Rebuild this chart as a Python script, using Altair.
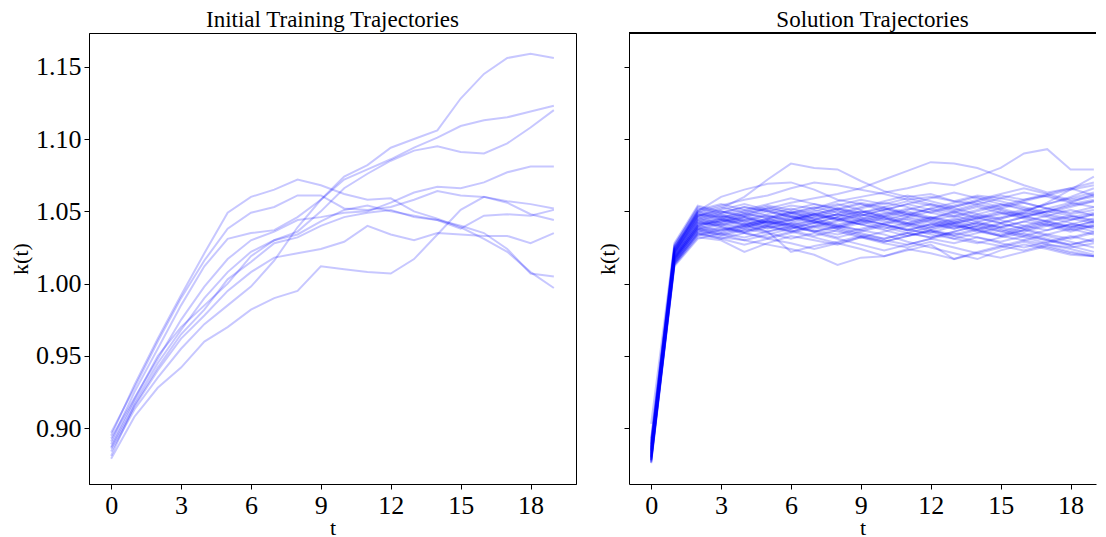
import altair as alt
import pandas as pd

FONT = "Liberation Serif"

t_values = list(range(20))
x_ticks = [0, 3, 6, 9, 12, 15, 18]
y_ticks = [0.90, 0.95, 1.00, 1.05, 1.10, 1.15]

# ---- Initial training trajectories (left panel) ----
init_a = [0.884, 0.913, 0.935, 0.955, 0.972, 0.985, 0.998, 1.016, 1.039, 1.058, 1.074, 1.082, 1.094, 1.100, 1.106, 1.128, 1.145, 1.156, 1.159, 1.156]
init_b = [0.891, 0.925, 0.955, 0.985, 1.012, 1.031, 1.035, 1.037, 1.046, 1.058, 1.072, 1.079, 1.086, 1.094, 1.101, 1.109, 1.113, 1.115, 1.119, 1.123]
init_c = [0.887, 0.918, 0.945, 0.968, 0.990, 1.008, 1.022, 1.030, 1.036, 1.050, 1.066, 1.076, 1.085, 1.092, 1.095, 1.091, 1.090, 1.097, 1.108, 1.120]
init_d = [0.893, 0.921, 0.948, 0.975, 0.998, 1.017, 1.030, 1.036, 1.044, 1.046, 1.049, 1.050, 1.056, 1.063, 1.067, 1.066, 1.070, 1.077, 1.081, 1.081]
init_e = [0.895, 0.930, 0.962, 0.992, 1.021, 1.049, 1.060, 1.065, 1.072, 1.068, 1.062, 1.058, 1.059, 1.050, 1.045, 1.039, 1.031, 1.022, 1.008, 0.997]
init_f = [0.897, 0.928, 0.960, 0.990, 1.016, 1.038, 1.049, 1.053, 1.061, 1.061, 1.052, 1.051, 1.053, 1.058, 1.064, 1.061, 1.060, 1.057, 1.055, 1.052]
init_g = [0.879, 0.908, 0.928, 0.942, 0.960, 0.970, 0.982, 0.990, 0.995, 1.012, 1.010, 1.008, 1.007, 1.017, 1.034, 1.051, 1.060, 1.056, 1.048, 1.044]
init_h = [0.886, 0.915, 0.940, 0.962, 0.978, 0.995, 1.008, 1.018, 1.021, 1.024, 1.029, 1.040, 1.034, 1.030, 1.035, 1.034, 1.033, 1.033, 1.028, 1.035]
init_i = [0.889, 0.920, 0.950, 0.970, 0.985, 1.000, 1.019, 1.030, 1.034, 1.043, 1.051, 1.054, 1.050, 1.047, 1.044, 1.040, 1.035, 1.024, 1.007, 1.005]
init_j = [0.881, 0.916, 0.942, 0.965, 0.982, 1.003, 1.015, 1.028, 1.032, 1.040, 1.046, 1.049, 1.051, 1.046, 1.044, 1.038, 1.047, 1.048, 1.047, 1.051]
initial_runs = [init_a, init_b, init_c, init_d, init_e, init_f, init_g, init_h, init_i, init_j]

# ---- Solution trajectories (right panel) ----
sol_01 = [0.878, 1.018, 1.042, 1.045, 1.048, 1.046, 1.050, 1.047, 1.044, 1.049, 1.052, 1.048, 1.045, 1.050, 1.054, 1.051, 1.047, 1.050, 1.055, 1.058]
sol_02 = [0.881, 1.021, 1.045, 1.041, 1.038, 1.043, 1.040, 1.036, 1.039, 1.044, 1.041, 1.037, 1.035, 1.040, 1.038, 1.034, 1.039, 1.043, 1.040, 1.036]
sol_03 = [0.884, 1.024, 1.050, 1.054, 1.058, 1.061, 1.066, 1.070, 1.068, 1.065, 1.062, 1.058, 1.060, 1.057, 1.061, 1.059, 1.063, 1.060, 1.056, 1.062]
sol_04 = [0.877, 1.015, 1.036, 1.039, 1.035, 1.032, 1.036, 1.040, 1.038, 1.034, 1.031, 1.035, 1.039, 1.042, 1.037, 1.033, 1.030, 1.034, 1.038, 1.041]
sol_05 = [0.886, 1.022, 1.047, 1.052, 1.060, 1.072, 1.083, 1.080, 1.079, 1.071, 1.064, 1.060, 1.062, 1.057, 1.055, 1.059, 1.056, 1.052, 1.049, 1.053]
sol_06 = [0.880, 1.023, 1.050, 1.060, 1.065, 1.069, 1.070, 1.065, 1.058, 1.055, 1.050, 1.047, 1.052, 1.049, 1.045, 1.048, 1.051, 1.047, 1.044, 1.048]
sol_07 = [0.879, 1.013, 1.032, 1.030, 1.022, 1.028, 1.033, 1.030, 1.027, 1.032, 1.029, 1.033, 1.036, 1.031, 1.028, 1.032, 1.035, 1.031, 1.027, 1.030]
sol_08 = [0.883, 1.017, 1.040, 1.037, 1.041, 1.036, 1.022, 1.026, 1.029, 1.033, 1.030, 1.027, 1.031, 1.035, 1.032, 1.028, 1.025, 1.029, 1.033, 1.029]
sol_09 = [0.876, 1.014, 1.035, 1.032, 1.030, 1.027, 1.024, 1.020, 1.013, 1.018, 1.019, 1.024, 1.021, 1.017, 1.022, 1.026, 1.023, 1.027, 1.024, 1.020]
sol_10 = [0.888, 1.026, 1.053, 1.049, 1.053, 1.050, 1.054, 1.052, 1.057, 1.060, 1.063, 1.066, 1.070, 1.068, 1.074, 1.080, 1.090, 1.093, 1.079, 1.079]
sol_11 = [0.882, 1.022, 1.046, 1.050, 1.047, 1.052, 1.056, 1.059, 1.062, 1.066, 1.072, 1.078, 1.084, 1.083, 1.080, 1.074, 1.068, 1.063, 1.066, 1.061]
sol_12 = [0.885, 1.019, 1.041, 1.043, 1.046, 1.041, 1.044, 1.048, 1.045, 1.041, 1.038, 1.042, 1.046, 1.043, 1.039, 1.036, 1.040, 1.044, 1.047, 1.043]
sol_13 = [0.890, 1.025, 1.048, 1.046, 1.049, 1.053, 1.049, 1.045, 1.048, 1.052, 1.056, 1.053, 1.049, 1.046, 1.050, 1.054, 1.058, 1.061, 1.057, 1.060]
sol_14 = [0.878, 1.016, 1.038, 1.042, 1.039, 1.043, 1.047, 1.043, 1.040, 1.037, 1.034, 1.029, 1.025, 1.021, 1.017, 1.023, 1.027, 1.024, 1.020, 1.019]
sol_15 = [0.884, 1.020, 1.043, 1.047, 1.043, 1.039, 1.042, 1.046, 1.050, 1.046, 1.043, 1.040, 1.036, 1.033, 1.037, 1.041, 1.038, 1.034, 1.031, 1.035]
sol_16 = [0.887, 1.023, 1.047, 1.044, 1.040, 1.044, 1.048, 1.051, 1.047, 1.050, 1.046, 1.042, 1.039, 1.043, 1.047, 1.044, 1.040, 1.037, 1.041, 1.039]
sol_17 = [0.880, 1.018, 1.039, 1.036, 1.040, 1.044, 1.041, 1.037, 1.034, 1.038, 1.042, 1.046, 1.043, 1.039, 1.043, 1.046, 1.050, 1.055, 1.060, 1.066]
sol_18 = [0.881, 1.017, 1.037, 1.041, 1.045, 1.042, 1.038, 1.042, 1.046, 1.043, 1.039, 1.035, 1.032, 1.036, 1.040, 1.045, 1.049, 1.056, 1.065, 1.074]
sol_19 = [0.893, 1.027, 1.052, 1.048, 1.051, 1.047, 1.043, 1.047, 1.051, 1.055, 1.052, 1.048, 1.044, 1.047, 1.051, 1.055, 1.052, 1.048, 1.045, 1.042]
sol_20 = [0.877, 1.014, 1.034, 1.038, 1.035, 1.031, 1.035, 1.039, 1.036, 1.032, 1.036, 1.040, 1.044, 1.040, 1.036, 1.033, 1.037, 1.041, 1.038, 1.034]
sol_21 = [0.889, 1.024, 1.049, 1.053, 1.049, 1.045, 1.041, 1.044, 1.048, 1.044, 1.048, 1.052, 1.049, 1.053, 1.057, 1.053, 1.057, 1.061, 1.065, 1.068]
sol_22 = [0.883, 1.019, 1.042, 1.040, 1.036, 1.040, 1.044, 1.048, 1.052, 1.056, 1.053, 1.057, 1.054, 1.050, 1.046, 1.042, 1.038, 1.042, 1.039, 1.043]
sol_23 = [0.879, 1.016, 1.037, 1.033, 1.037, 1.041, 1.045, 1.049, 1.045, 1.041, 1.045, 1.041, 1.037, 1.033, 1.029, 1.026, 1.030, 1.027, 1.025, 1.028]
sol_24 = [0.886, 1.021, 1.045, 1.049, 1.053, 1.050, 1.046, 1.043, 1.039, 1.043, 1.047, 1.051, 1.055, 1.052, 1.048, 1.052, 1.056, 1.052, 1.048, 1.051]
sol_25 = [0.882, 1.018, 1.040, 1.044, 1.041, 1.045, 1.049, 1.052, 1.055, 1.051, 1.047, 1.044, 1.040, 1.044, 1.048, 1.045, 1.049, 1.046, 1.042, 1.038]
sol_26 = [0.878, 1.015, 1.036, 1.034, 1.038, 1.035, 1.031, 1.035, 1.031, 1.027, 1.023, 1.027, 1.031, 1.028, 1.032, 1.029, 1.033, 1.030, 1.026, 1.022]
sol_27 = [0.885, 1.022, 1.046, 1.042, 1.046, 1.050, 1.046, 1.042, 1.038, 1.042, 1.046, 1.050, 1.046, 1.042, 1.045, 1.049, 1.045, 1.041, 1.037, 1.040]
sol_28 = [0.891, 1.026, 1.051, 1.055, 1.051, 1.055, 1.059, 1.055, 1.051, 1.047, 1.051, 1.055, 1.059, 1.063, 1.059, 1.055, 1.051, 1.055, 1.059, 1.063]
sol_29 = [0.880, 1.017, 1.039, 1.043, 1.047, 1.043, 1.039, 1.036, 1.032, 1.036, 1.040, 1.037, 1.041, 1.038, 1.042, 1.038, 1.034, 1.030, 1.027, 1.031]
sol_30 = [0.887, 1.020, 1.044, 1.040, 1.044, 1.048, 1.052, 1.048, 1.044, 1.048, 1.045, 1.041, 1.045, 1.049, 1.053, 1.049, 1.046, 1.050, 1.054, 1.057]
sol_31 = [0.884, 1.019, 1.041, 1.045, 1.042, 1.038, 1.042, 1.039, 1.043, 1.047, 1.051, 1.055, 1.051, 1.047, 1.043, 1.039, 1.043, 1.040, 1.036, 1.040]
sol_32 = [0.877, 1.013, 1.033, 1.037, 1.040, 1.036, 1.039, 1.043, 1.039, 1.035, 1.031, 1.035, 1.032, 1.036, 1.040, 1.036, 1.032, 1.028, 1.032, 1.036]
sol_33 = [0.892, 1.025, 1.050, 1.047, 1.043, 1.047, 1.044, 1.048, 1.052, 1.049, 1.053, 1.049, 1.045, 1.041, 1.045, 1.042, 1.046, 1.050, 1.047, 1.044]
sol_34 = [0.881, 1.016, 1.038, 1.034, 1.030, 1.034, 1.038, 1.042, 1.046, 1.050, 1.046, 1.042, 1.038, 1.042, 1.046, 1.050, 1.047, 1.043, 1.046, 1.049]
sol_35 = [0.903, 1.028, 1.054, 1.050, 1.046, 1.042, 1.046, 1.050, 1.054, 1.058, 1.055, 1.059, 1.055, 1.051, 1.055, 1.052, 1.048, 1.052, 1.056, 1.053]
sol_36 = [0.879, 1.015, 1.035, 1.031, 1.027, 1.031, 1.028, 1.024, 1.028, 1.032, 1.028, 1.025, 1.029, 1.025, 1.021, 1.018, 1.022, 1.026, 1.022, 1.019]
sol_37 = [0.886, 1.022, 1.047, 1.051, 1.055, 1.051, 1.047, 1.044, 1.048, 1.045, 1.041, 1.038, 1.034, 1.031, 1.035, 1.039, 1.036, 1.040, 1.044, 1.048]
sol_38 = [0.883, 1.018, 1.040, 1.044, 1.048, 1.052, 1.049, 1.045, 1.041, 1.045, 1.049, 1.046, 1.050, 1.054, 1.058, 1.062, 1.066, 1.062, 1.058, 1.061]
sol_39 = [0.880, 1.017, 1.038, 1.035, 1.039, 1.043, 1.040, 1.036, 1.040, 1.044, 1.041, 1.037, 1.041, 1.045, 1.041, 1.037, 1.033, 1.037, 1.041, 1.045]
sol_40 = [0.888, 1.023, 1.048, 1.045, 1.041, 1.045, 1.049, 1.053, 1.049, 1.053, 1.057, 1.061, 1.057, 1.053, 1.057, 1.061, 1.058, 1.062, 1.066, 1.070]
sol_41 = [0.878, 1.014, 1.034, 1.031, 1.035, 1.039, 1.036, 1.040, 1.044, 1.041, 1.037, 1.033, 1.037, 1.034, 1.038, 1.042, 1.046, 1.043, 1.039, 1.043]
sol_42 = [0.885, 1.020, 1.043, 1.039, 1.036, 1.040, 1.037, 1.033, 1.037, 1.033, 1.029, 1.033, 1.037, 1.041, 1.037, 1.033, 1.037, 1.033, 1.029, 1.025]
sol_43 = [0.882, 1.021, 1.044, 1.048, 1.044, 1.040, 1.036, 1.032, 1.028, 1.024, 1.019, 1.023, 1.027, 1.017, 1.021, 1.025, 1.029, 1.025, 1.021, 1.019]
sol_44 = [0.889, 1.024, 1.049, 1.046, 1.050, 1.054, 1.051, 1.055, 1.052, 1.048, 1.044, 1.048, 1.052, 1.056, 1.060, 1.057, 1.053, 1.049, 1.053, 1.057]
sol_45 = [0.876, 1.012, 1.031, 1.035, 1.032, 1.036, 1.040, 1.044, 1.040, 1.037, 1.041, 1.045, 1.042, 1.038, 1.042, 1.039, 1.043, 1.047, 1.051, 1.047]
solution_runs = [sol_01, sol_02, sol_03, sol_04, sol_05, sol_06, sol_07, sol_08, sol_09, sol_10,
                 sol_11, sol_12, sol_13, sol_14, sol_15, sol_16, sol_17, sol_18, sol_19, sol_20,
                 sol_21, sol_22, sol_23, sol_24, sol_25, sol_26, sol_27, sol_28, sol_29, sol_30,
                 sol_31, sol_32, sol_33, sol_34, sol_35, sol_36, sol_37, sol_38, sol_39, sol_40,
                 sol_41, sol_42, sol_43, sol_44, sol_45]


def to_long(runs):
    rows = []
    for i, run in enumerate(runs):
        for t, v in zip(t_values, run):
            rows.append({"t": t, "k": v, "run": i})
    return pd.DataFrame(rows)


df_init = to_long(initial_runs)
df_sol = to_long(solution_runs)

Y_DOM = [0.8615, 1.1733]
W_LEFT = 487
W_RIGHT = 467
H = 451
PX_PER_T = W_LEFT / 20.9
X_DOM_LEFT = [-0.95, 19.95]
X_DOM_RIGHT = [-0.95, -0.95 + W_RIGHT / PX_PER_T]


def line_layer(df, xdom, show_ylabels, ytitle_x):
    return alt.Chart(df).mark_line(color="#0000ff", opacity=0.22, strokeWidth=2).encode(
        x=alt.X("t:Q", scale=alt.Scale(domain=xdom, nice=False, zero=False),
                axis=alt.Axis(values=x_ticks, format="d", title="t",
                              titleBaseline="alphabetic", titleY=50)),
        y=alt.Y("k:Q", scale=alt.Scale(domain=Y_DOM, nice=False, zero=False),
                axis=alt.Axis(values=y_ticks, format=".2f", labels=show_ylabels,
                              title="k(t)", titleBaseline="bottom", titleX=ytitle_x)),
        detail="run:N",
    )


left = line_layer(df_init, X_DOM_LEFT, True, -57).properties(
    width=W_LEFT, height=H,
    title=alt.TitleParams("Initial Training Trajectories", anchor="middle"),
)

right_lines = line_layer(df_sol, X_DOM_RIGHT, False, -10)
top_border = alt.Chart(df_sol).mark_rule(color="black", strokeWidth=1).encode(
    x=alt.value(0), x2=alt.value(W_RIGHT), y=alt.value(0)
)
right = alt.layer(right_lines, top_border).properties(
    width=W_RIGHT, height=H,
    title=alt.TitleParams("Solution Trajectories", anchor="middle", dx=10),
    view=alt.ViewBackground(stroke=None),
)

chart = alt.hconcat(left, right, spacing=53, bounds="flush").properties(
    padding={"left": 0, "top": 0, "right": 0, "bottom": 0}
).configure_view(
    stroke="black", strokeWidth=1
).configure_axis(
    grid=False, domainColor="black", domainWidth=1, tickColor="black", tickWidth=1,
    tickSize=5, labelPadding=3, labelFont=FONT, labelFontSize=26, labelColor="black",
    titleFont=FONT, titleFontSize=22, titleFontWeight="normal", titleColor="black",
).configure_title(
    font=FONT, fontSize=23, fontWeight="normal", color="black", offset=0,
    baseline="alphabetic", dy=3,
)

chart.save("out.html", embed_options={"renderer": "svg", "actions": False})
